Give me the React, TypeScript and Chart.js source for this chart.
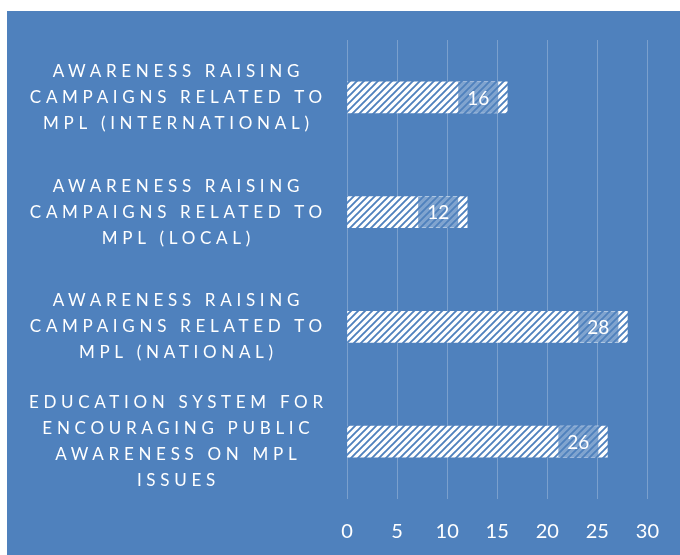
import React, { useEffect, useRef } from "react";
import { Chart, registerables } from "chart.js";

Chart.register(...registerables);

const categoryLines: string[][] = [
  ["AWARENESS RAISING", "CAMPAIGNS RELATED TO", "MPL (INTERNATIONAL)"],
  ["AWARENESS RAISING", "CAMPAIGNS RELATED TO", "MPL (LOCAL)"],
  ["AWARENESS RAISING", "CAMPAIGNS RELATED TO", "MPL (NATIONAL)"],
  ["EDUCATION SYSTEM FOR", "ENCOURAGING PUBLIC", "AWARENESS ON MPL", "ISSUES"],
];
const values: number[] = [16, 12, 28, 26];
const xMin = 0;
const xMax = 30;
const xStep = 5;

const BG = "#4f81bd";
const FONT = "Lato, 'Open Sans', sans-serif";

function makePattern(): CanvasPattern | string {
  const n = 7;
  const c = document.createElement("canvas");
  c.width = n;
  c.height = n;
  const g = c.getContext("2d");
  if (!g) return "#ffffff";
  g.fillStyle = "#ffffff";
  g.fillRect(0, 0, n, n);
  g.strokeStyle = BG;
  g.lineWidth = 1.9;
  g.beginPath();
  g.moveTo(-2, n + 2);
  g.lineTo(n + 2, -2);
  g.moveTo(-n - 2, n + 2);
  g.lineTo(n + 2, -n - 2);
  g.moveTo(-2, 2 * n + 2);
  g.lineTo(2 * n + 2, -2);
  g.stroke();
  const p = g.createPattern(c, "repeat");
  return p || "#ffffff";
}

const yLabelPlugin = {
  id: "yLabelPlugin",
  afterDraw(chart: any) {
    const ctx = chart.ctx;
    const yScale = chart.scales.y;
    ctx.save();
    ctx.fillStyle = "#ffffff";
    ctx.font = `17px ${FONT}`;
    ctx.textAlign = "center";
    ctx.textBaseline = "middle";
    const ls = 4.7;
    (ctx as any).letterSpacing = `${ls}px`;
    const cx = 169 + ls / 2;
    const lh = 26;
    categoryLines.forEach((lines, i) => {
      const cy = yScale.getPixelForValue(i);
      const start = cy - ((lines.length - 1) * lh) / 2;
      lines.forEach((ln, j) => {
        ctx.fillText(ln, cx, start + j * lh);
      });
    });
    ctx.restore();
  },
};

const boxLabelPlugin = {
  id: "boxLabelPlugin",
  afterDatasetsDraw(chart: any) {
    const ctx = chart.ctx;
    const meta = chart.getDatasetMeta(0);
    ctx.save();
    meta.data.forEach((bar: any, i: number) => {
      const h = bar.height;
      const right = bar.x - 9;
      const w = 40;
      const left = right - w;
      const top = bar.y - h / 2;
      ctx.fillStyle = "rgba(79,129,189,0.72)";
      ctx.fillRect(left, top, w, h);
      ctx.fillStyle = "#ffffff";
      ctx.font = `19px ${FONT}`;
      ctx.textAlign = "center";
      ctx.textBaseline = "middle";
      ctx.fillText(String(values[i]), left + w / 2, bar.y + 1);
    });
    ctx.restore();
  },
};

export default function App() {
  const ref = useRef<HTMLCanvasElement | null>(null);
  useEffect(() => {
    if (!ref.current) return;
    const pattern = makePattern();
    const chart = new Chart(ref.current, {
      type: "bar",
      data: {
        labels: categoryLines.map((l) => l.join(" ")),
        datasets: [
          {
            data: values,
            backgroundColor: pattern as any,
            borderWidth: 0,
            barThickness: 31,
          },
        ],
      },
      options: {
        indexAxis: "y",
        animation: false,
        responsive: false,
        layout: { padding: { left: 0, top: 29, right: 31, bottom: 0 } },
        plugins: {
          legend: { display: false },
          tooltip: { enabled: false },
        },
        scales: {
          x: {
            min: xMin,
            max: xMax,
            grid: {
              color: "rgba(255,255,255,0.25)",
              drawTicks: false,
              lineWidth: 1,
            },
            border: { display: false },
            ticks: {
              stepSize: xStep,
              color: "#ffffff",
              font: { family: FONT, size: 20 },
              padding: 21,
            },
            afterFit: (s: any) => {
              s.height = 56;
            },
          },
          y: {
            grid: { display: false },
            border: { display: false },
            ticks: { display: false },
            afterFit: (s: any) => {
              s.width = 340;
            },
          },
        },
      },
      plugins: [boxLabelPlugin, yLabelPlugin],
    });
    return () => chart.destroy();
  }, []);
  return (
    <div
      style={{
        position: "fixed",
        left: 7,
        top: 11,
        width: 673,
        height: 544,
        background: BG,
      }}
    >
      <canvas ref={ref} width={673} height={544} style={{ display: "block" }} />
    </div>
  );
}
